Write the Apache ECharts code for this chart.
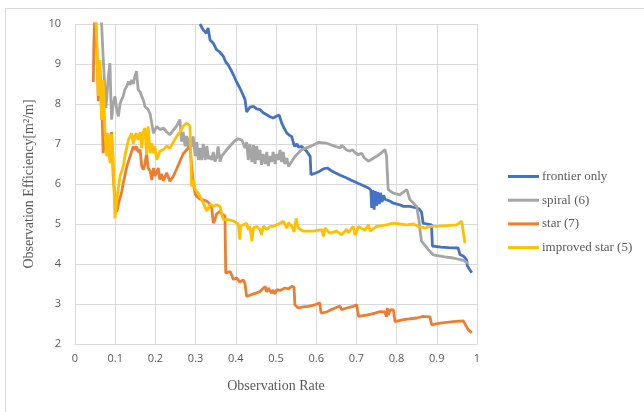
<!DOCTYPE html>
<html>
<head>
<meta charset="utf-8">
<script src="https://cdn.jsdelivr.net/npm/echarts@6/dist/echarts.min.js"></script>
<style>
    html, body { margin: 0; padding: 0; background: #fff; }
    #main { width: 644px; height: 412px; }
</style>
</head>
<body>
<div id="main"></div>
<script>
// [observation rate, observation efficiency]
var frontierOnly = [
    [0.311, 10.0], [0.319, 9.85], [0.327, 9.77], [0.331, 9.9], [0.336, 9.6], [0.344, 9.52], [0.352, 9.36],
    [0.36, 9.3], [0.369, 9.19], [0.375, 9.05], [0.381, 8.98], [0.388, 8.85], [0.394, 8.73], [0.402, 8.55],
    [0.41, 8.4], [0.417, 8.25], [0.423, 8.11], [0.427, 7.8], [0.435, 7.92], [0.444, 7.94], [0.452, 7.88],
    [0.46, 7.86], [0.468, 7.78], [0.477, 7.73], [0.485, 7.68], [0.493, 7.65], [0.502, 7.7], [0.508, 7.72],
    [0.514, 7.53], [0.52, 7.4], [0.527, 7.27], [0.533, 7.22], [0.539, 7.19], [0.544, 7.0], [0.547, 6.94],
    [0.552, 7.0], [0.556, 6.92], [0.564, 6.94], [0.57, 6.88], [0.576, 6.82], [0.585, 6.69], [0.587, 6.23],
    [0.597, 6.27], [0.609, 6.32], [0.618, 6.38], [0.628, 6.4], [0.638, 6.33], [0.647, 6.28], [0.66, 6.22],
    [0.676, 6.15], [0.69, 6.08], [0.701, 6.03], [0.715, 5.97], [0.73, 5.9], [0.736, 5.85], [0.738, 5.4],
    [0.741, 5.85], [0.744, 5.36], [0.747, 5.82], [0.75, 5.45], [0.753, 5.8], [0.757, 5.5], [0.76, 5.78],
    [0.764, 5.55], [0.768, 5.72], [0.771, 5.62], [0.775, 5.61], [0.784, 5.57], [0.792, 5.52], [0.808, 5.48],
    [0.817, 5.44], [0.833, 5.44], [0.85, 5.4], [0.856, 5.38], [0.862, 5.3], [0.866, 5.02], [0.875, 5.0],
    [0.887, 4.98], [0.889, 4.45], [0.891, 4.44], [0.91, 4.42], [0.93, 4.41], [0.953, 4.4], [0.958, 4.23],
    [0.966, 4.2], [0.974, 4.11], [0.976, 3.95], [0.98, 3.9], [0.987, 3.78]
];
var spiral6 = [
    [0.064, 10.5], [0.068, 9.6], [0.072, 8.8], [0.077, 7.9], [0.079, 7.86], [0.083, 8.7], [0.087, 9.02],
    [0.089, 8.2], [0.091, 7.61], [0.095, 8.0], [0.0995, 8.19], [0.104, 7.85], [0.108, 7.69], [0.112, 8.0],
    [0.116, 8.11], [0.12, 8.2], [0.124, 8.36], [0.129, 8.45], [0.133, 8.56], [0.137, 8.48], [0.141, 8.6],
    [0.145, 8.5], [0.149, 8.7], [0.153, 8.82], [0.157, 8.36], [0.162, 8.3], [0.166, 8.19], [0.17, 8.1],
    [0.174, 7.94], [0.178, 7.9], [0.182, 7.86], [0.187, 7.75], [0.191, 7.52], [0.195, 7.27], [0.199, 7.35],
    [0.203, 7.44], [0.211, 7.36], [0.22, 7.4], [0.228, 7.3], [0.236, 7.23], [0.245, 7.35], [0.253, 7.45],
    [0.261, 7.61], [0.265, 7.06], [0.269, 7.3], [0.274, 6.94], [0.278, 7.2], [0.282, 6.9], [0.286, 7.15],
    [0.29, 6.94], [0.294, 7.19], [0.299, 6.7], [0.303, 7.05], [0.307, 6.6], [0.311, 6.9], [0.315, 6.6],
    [0.319, 7.0], [0.324, 6.6], [0.328, 6.95], [0.332, 6.62], [0.336, 6.7], [0.34, 6.6], [0.344, 6.8],
    [0.348, 6.56], [0.352, 6.65], [0.356, 6.94], [0.361, 6.56], [0.365, 6.7], [0.373, 6.8], [0.381, 6.9],
    [0.39, 7.0], [0.398, 7.08], [0.406, 7.13], [0.415, 7.1], [0.419, 7.06], [0.423, 6.9], [0.427, 7.05],
    [0.431, 6.6], [0.435, 7.0], [0.44, 6.55], [0.444, 6.98], [0.448, 6.5], [0.452, 6.95], [0.456, 6.6],
    [0.46, 6.85], [0.464, 6.48], [0.468, 6.75], [0.473, 6.5], [0.477, 6.8], [0.481, 6.45], [0.485, 6.7],
    [0.489, 6.55], [0.493, 6.8], [0.498, 6.5], [0.502, 6.75], [0.506, 6.6], [0.51, 6.85], [0.514, 6.55],
    [0.518, 6.8], [0.522, 6.5], [0.527, 6.65], [0.531, 6.44], [0.547, 6.69], [0.564, 6.86], [0.585, 6.94],
    [0.605, 7.04], [0.626, 7.02], [0.647, 6.94], [0.66, 6.9], [0.663, 6.97], [0.676, 6.85], [0.684, 6.82],
    [0.69, 6.86], [0.697, 6.78], [0.705, 6.73], [0.713, 6.77], [0.72, 6.65], [0.73, 6.57], [0.74, 6.63],
    [0.75, 6.69], [0.762, 6.78], [0.771, 6.86], [0.775, 6.7], [0.777, 6.27], [0.779, 5.86], [0.792, 5.77],
    [0.808, 5.73], [0.825, 5.86], [0.828, 5.78], [0.833, 5.61], [0.842, 5.52], [0.85, 5.44], [0.854, 5.4],
    [0.856, 5.07], [0.858, 4.86], [0.862, 4.57], [0.866, 4.6], [0.879, 4.36], [0.883, 4.32], [0.891, 4.23],
    [0.92, 4.18], [0.941, 4.15], [0.966, 4.09], [0.978, 4.02]
];
var star7 = [
    [0.0455, 8.55], [0.047, 9.5], [0.05, 10.5], [0.054, 9.52], [0.058, 8.07], [0.062, 8.86], [0.066, 8.3],
    [0.07, 6.77], [0.075, 7.27], [0.079, 6.9], [0.083, 7.1], [0.087, 6.6], [0.091, 7.3], [0.095, 6.2],
    [0.0995, 5.6], [0.104, 5.3], [0.108, 5.5], [0.112, 5.65], [0.116, 5.8], [0.12, 6.02], [0.129, 6.44],
    [0.137, 6.69], [0.145, 6.94], [0.149, 6.85], [0.153, 6.94], [0.157, 6.8], [0.162, 6.86], [0.166, 6.44],
    [0.17, 6.36], [0.174, 6.5], [0.178, 6.77], [0.182, 6.4], [0.187, 6.32], [0.191, 6.1], [0.195, 6.4],
    [0.199, 6.2], [0.203, 6.15], [0.207, 6.4], [0.211, 6.11], [0.215, 6.25], [0.22, 6.08], [0.228, 6.28],
    [0.236, 6.07], [0.245, 6.2], [0.253, 6.38], [0.261, 6.57], [0.269, 6.75], [0.278, 6.86], [0.286, 6.94],
    [0.29, 6.9], [0.294, 6.02], [0.299, 5.75], [0.303, 5.69], [0.311, 5.62], [0.319, 5.6], [0.328, 5.57],
    [0.336, 5.5], [0.34, 5.4], [0.344, 5.02], [0.348, 5.1], [0.352, 5.25], [0.356, 5.3], [0.361, 5.32],
    [0.365, 5.25], [0.369, 5.3], [0.373, 5.2], [0.375, 3.77], [0.381, 3.8], [0.386, 3.81], [0.394, 3.61],
    [0.402, 3.65], [0.41, 3.55], [0.419, 3.6], [0.423, 3.5], [0.427, 3.19], [0.435, 3.22], [0.44, 3.24],
    [0.452, 3.28], [0.46, 3.31], [0.473, 3.44], [0.477, 3.3], [0.481, 3.4], [0.489, 3.27], [0.493, 3.35],
    [0.497, 3.25], [0.502, 3.36], [0.51, 3.34], [0.522, 3.4], [0.531, 3.38], [0.539, 3.44], [0.545, 3.42],
    [0.547, 2.98], [0.555, 2.9], [0.568, 2.93], [0.58, 2.94], [0.597, 2.98], [0.609, 3.03], [0.612, 2.77],
    [0.626, 2.8], [0.638, 2.86], [0.647, 2.9], [0.659, 2.95], [0.663, 2.86], [0.676, 2.9], [0.692, 2.94],
    [0.701, 2.98], [0.705, 2.69], [0.726, 2.72], [0.746, 2.77], [0.759, 2.81], [0.771, 2.8], [0.775, 2.68],
    [0.777, 2.9], [0.779, 2.72], [0.784, 2.85], [0.792, 2.86], [0.796, 2.56], [0.817, 2.61], [0.85, 2.65],
    [0.866, 2.69], [0.883, 2.68], [0.887, 2.48], [0.908, 2.52], [0.941, 2.56], [0.966, 2.58], [0.97, 2.56],
    [0.978, 2.36], [0.987, 2.28]
];
var improvedStar5 = [
    [0.05, 10.5], [0.054, 9.6], [0.058, 8.2], [0.062, 9.1], [0.066, 7.6], [0.07, 8.6], [0.075, 7.2],
    [0.079, 6.69], [0.083, 7.27], [0.087, 6.52], [0.091, 7.25], [0.095, 6.6], [0.0995, 5.14], [0.104, 5.6],
    [0.108, 5.9], [0.112, 6.19], [0.12, 6.44], [0.124, 6.69], [0.133, 7.11], [0.137, 7.19], [0.141, 7.27],
    [0.145, 7.0], [0.149, 7.2], [0.153, 7.27], [0.157, 7.1], [0.162, 7.3], [0.166, 6.9], [0.17, 7.31],
    [0.174, 7.4], [0.178, 6.73], [0.182, 7.44], [0.187, 6.77], [0.191, 7.02], [0.195, 6.77], [0.199, 6.94],
    [0.203, 6.61], [0.207, 6.69], [0.211, 6.82], [0.22, 6.86], [0.228, 6.95], [0.236, 6.9], [0.245, 7.05],
    [0.253, 7.19], [0.261, 7.3], [0.269, 7.45], [0.278, 7.52], [0.282, 7.56], [0.286, 7.45], [0.29, 5.94],
    [0.294, 6.1], [0.299, 5.86], [0.307, 5.77], [0.311, 5.73], [0.319, 5.52], [0.328, 5.32], [0.336, 5.5],
    [0.344, 5.44], [0.352, 5.48], [0.361, 5.44], [0.365, 5.25], [0.369, 5.11], [0.381, 5.11], [0.394, 5.08],
    [0.406, 5.0], [0.41, 4.61], [0.412, 4.95], [0.419, 4.98], [0.427, 5.02], [0.431, 4.85], [0.435, 4.95],
    [0.44, 4.57], [0.444, 4.9], [0.452, 4.94], [0.46, 4.86], [0.464, 4.73], [0.469, 4.95], [0.477, 4.86],
    [0.485, 4.94], [0.493, 4.94], [0.502, 4.98], [0.51, 5.02], [0.518, 5.07], [0.522, 5.0], [0.527, 4.9],
    [0.531, 5.03], [0.539, 4.95], [0.545, 4.8], [0.547, 4.77], [0.55, 5.14], [0.555, 4.9], [0.568, 4.82],
    [0.593, 4.82], [0.614, 4.86], [0.618, 4.69], [0.622, 4.9], [0.634, 4.77], [0.651, 4.82], [0.663, 4.73],
    [0.676, 4.87], [0.68, 4.78], [0.692, 4.94], [0.697, 4.72], [0.705, 4.94], [0.721, 4.84], [0.73, 4.98],
    [0.734, 4.82], [0.75, 4.94], [0.775, 4.98], [0.792, 5.02], [0.808, 5.0], [0.825, 4.98], [0.842, 5.0],
    [0.854, 4.94], [0.871, 4.9], [0.883, 4.94], [0.9, 4.94], [0.925, 4.96], [0.949, 4.98], [0.962, 5.07],
    [0.966, 5.03], [0.97, 4.52]
];
var seriesNames = ['frontier only', 'spiral (6)', 'star (7)', 'improved star (5)'];
var seriesColors = ['#4472C4', '#A5A5A5', '#ED7D31', '#FFC000'];
var seriesData = [frontierOnly, spiral6, star7, improvedStar5];

var myChart = echarts.init(document.getElementById('main'), null, { renderer: 'canvas' });

var buildSeries = function () {
    var list = [];
    for (var i = 0; i < seriesData.length; i++) {
        list.push({
            name: seriesNames[i],
            type: 'line',
            data: seriesData[i],
            showSymbol: false,
            clip: true,
            color: seriesColors[i],
            lineStyle: { width: 2.8, color: seriesColors[i] }
        });
    }
    return list;
};

var axisText = { color: '#595959', fontFamily: 'Open Sans', fontSize: 11 };
var nameText = { color: '#595959', fontFamily: 'Liberation Serif', fontSize: 14 };

option = {
    animation: false,
    backgroundColor: '#fff',
    graphic: [{
        type: 'rect',
        shape: { x: 5.5, y: 8.5, width: 800, height: 600 },
        style: { fill: 'none', stroke: '#d9d9d9', lineWidth: 1 },
        silent: true
    }],
    grid: { left: 75, top: 24, width: 402, height: 320, containLabel: false },
    legend: {
        orient: 'vertical',
        left: 503,
        top: 165,
        itemWidth: 31,
        itemHeight: 3,
        itemGap: 10.7,
        icon: 'rect',
        textStyle: { color: '#595959', fontFamily: 'Liberation Serif', fontSize: 13, padding: [0, 0, 0, -2] },
        data: seriesNames
    },
    xAxis: {
        type: 'value',
        min: 0,
        max: 1,
        interval: 0.1,
        name: 'Observation Rate',
        nameLocation: 'middle',
        nameGap: 35,
        nameTextStyle: nameText,
        axisLine: { show: true, lineStyle: { color: '#d9d9d9' } },
        axisTick: { show: false },
        axisLabel: Object.assign({ margin: 9 }, axisText),
        splitLine: { show: true, lineStyle: { color: '#d9d9d9', width: 1 } }
    },
    yAxis: {
        type: 'value',
        min: 2,
        max: 10,
        interval: 1,
        name: 'Observation Efficiency[m\u00b2/m]',
        nameLocation: 'middle',
        nameGap: 39,
        nameTextStyle: nameText,
        axisLine: { show: false },
        axisTick: { show: false },
        axisLabel: Object.assign({ margin: 14 }, axisText),
        splitLine: { show: true, lineStyle: { color: '#d9d9d9', width: 1 } }
    },
    series: buildSeries()
};
myChart.setOption(option);
</script>
</body>
</html>
